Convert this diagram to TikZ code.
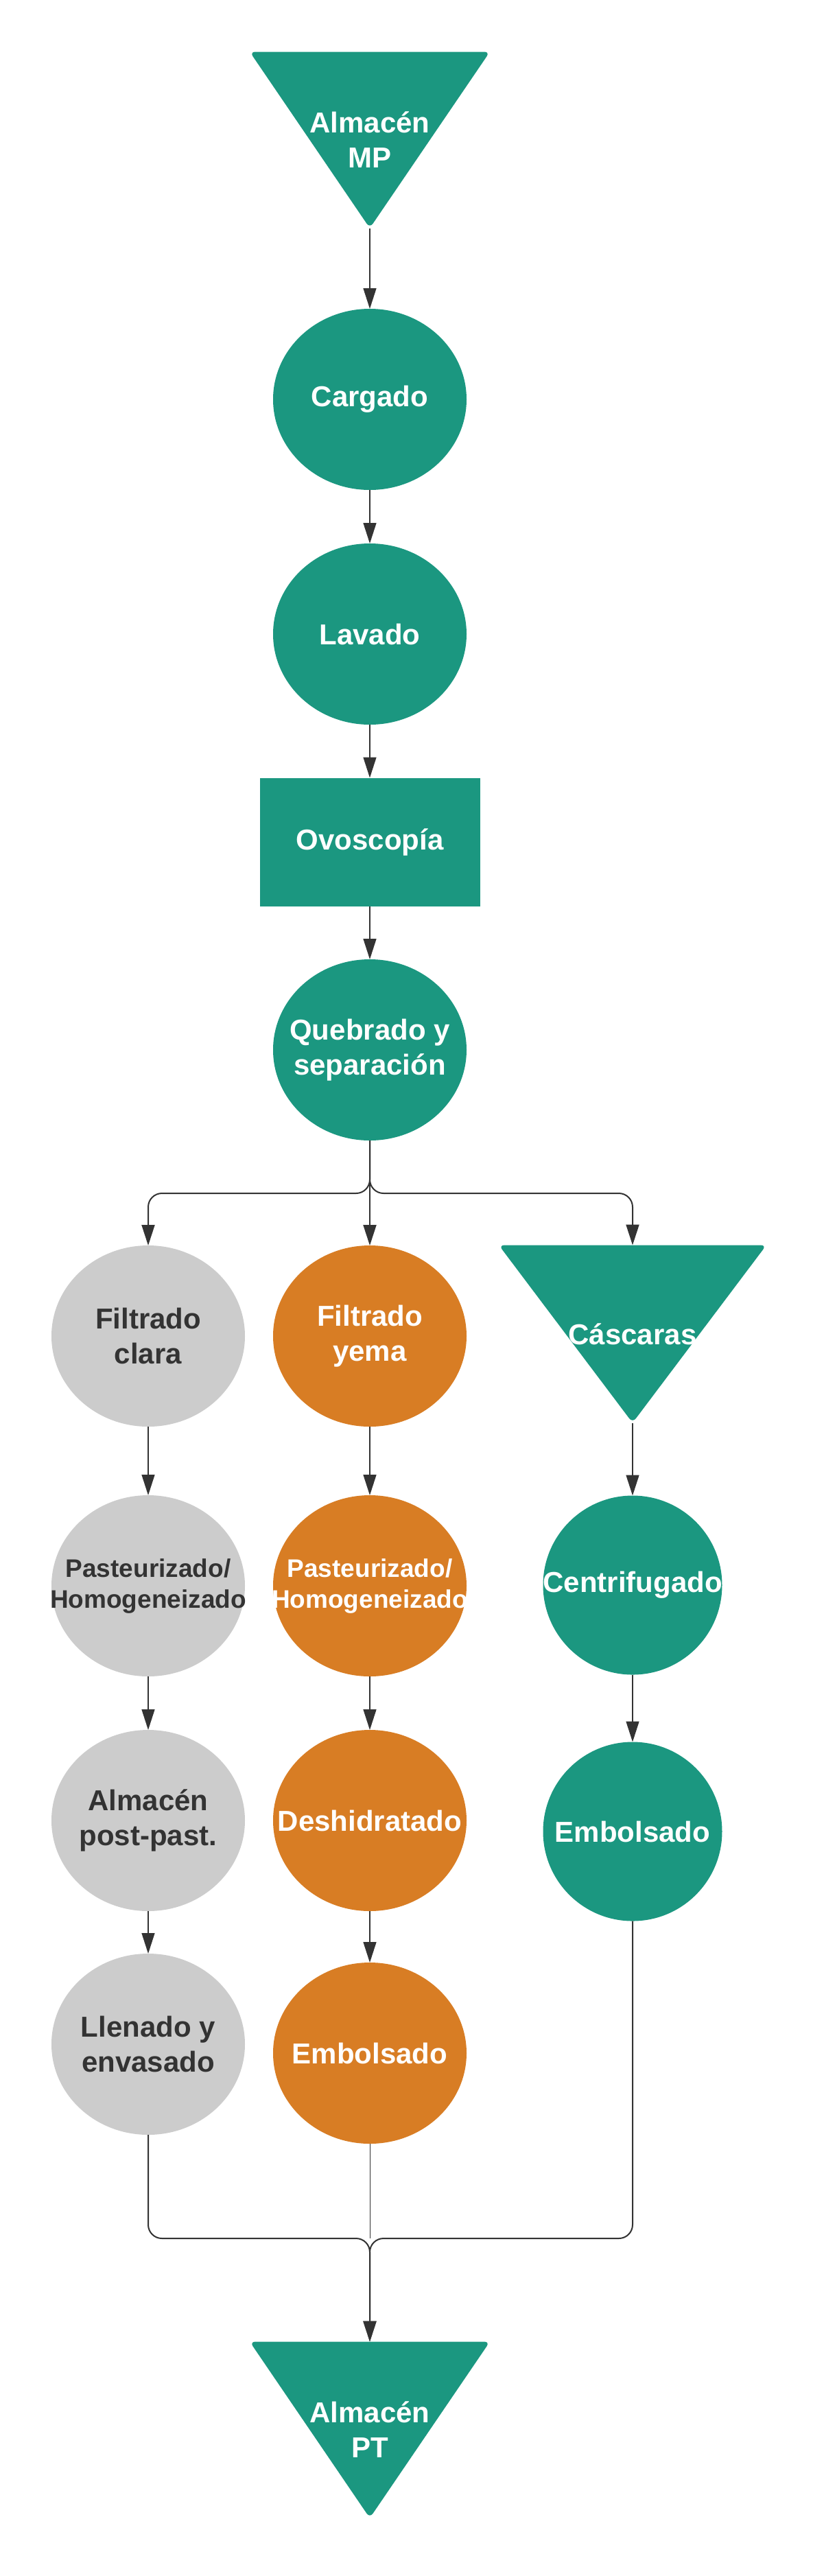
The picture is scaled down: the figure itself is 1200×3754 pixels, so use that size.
\documentclass[tikz,border=0pt]{standalone}
\usepackage{fontspec}
\setmainfont{Liberation Sans}
\usetikzlibrary{shapes.geometric,arrows.meta}
\definecolor{verde}{HTML}{1B9780}
\definecolor{naranja}{HTML}{D87D24}
\definecolor{gris}{HTML}{CCCCCC}
\definecolor{oscuro}{HTML}{333333}
\tikzset{
    every node/.style={inner sep=0pt, outer sep=0pt},
    txt/.style={font=\bfseries\fontsize{42}{51}\selectfont, align=center},
    chico/.style={font=\bfseries\fontsize{37}{45}\selectfont, align=center},
    blanco/.style={txt, text=white},
    negro/.style={txt, text=oscuro}
}
\tikzset{
    etapa/.style={ellipse, minimum width=282pt, minimum height=264pt},
    bola/.style={ellipse, minimum width=261pt, minimum height=261pt},
    caja/.style={rectangle, fill=verde, minimum width=321pt, minimum height=187pt},
    almacen/.style={minimum width=350pt, minimum height=257pt},
    cascara/.style={minimum width=390pt, minimum height=259pt}
}
\tikzset{
    flecha/.style={draw=oscuro, line width=1.5pt, -{Triangle[length=30pt, width=19pt]}},
    rama/.style={flecha, line width=2pt, rounded corners=20pt},
    fino/.style={draw=oscuro, line width=0.8pt}
}
\pgfdeclarelayer{background}
\pgfsetlayers{background,main}
\begin{document}
\begin{tikzpicture}[x=1pt, y=-1pt]
  \useasboundingbox (0,0) rectangle (1200,3754);
  % linea principal
  \node (mp) [almacen, blanco] at (539,204) {Almacén\\MP};
  \node (carg) [etapa, fill=verde, label={[blanco]center:Cargado}] at (539,582) {};
  \node (lav) [etapa, fill=verde, label={[blanco]center:Lavado}] at (539,924) {};
  \node (ovo) [caja, blanco] at (539,1227) {Ovoscopía};
  \node (queb) [etapa, fill=verde, label={[blanco]center:Quebrado y\\separación}] at (539,1530) {};
  \coordinate (split) at (539,1739);

  % clara
  \node (fc) [etapa, fill=gris, label={[negro]center:Filtrado\\clara}] at (216,1947) {};
  \node (pc) [etapa, fill=gris, label={[negro, chico]center:Pasteurizado/\\Homogeneizado}] at (216,2311) {};
  \node (ap) [etapa, fill=gris, label={[negro]center:Almacén\\post-past.}] at (216,2653) {};
  \node (lle) [etapa, fill=gris, label={[negro]center:Llenado y\\envasado}] at (216,2979) {};

  % yema
  \node (fy) [etapa, fill=naranja, label={[blanco]center:Filtrado\\yema}] at (539,1947) {};
  \node (py) [etapa, fill=naranja, label={[blanco, chico]center:Pasteurizado/\\Homogeneizado}] at (539,2311) {};
  \node (des) [etapa, fill=naranja, label={[blanco]center:Deshidratado}] at (539,2653) {};
  \node (embY) [etapa, fill=naranja, label={[blanco]center:Embolsado}] at (539,2992) {};

  % cascaras
  \node (cas) [cascara, blanco] at (922,1944) {Cáscaras};
  \node (cen) [bola, fill=verde, label={[blanco]center:Centrifugado}] at (922,2310) {};
  \node (embC) [bola, fill=verde, label={[blanco]center:Embolsado}] at (922,2669) {};

  \coordinate (merge) at (539,3262);
  \node (pt) [almacen, blanco] at (539,3541) {Almacén\\PT};

  \begin{pgfonlayer}{background}
    \foreach \t in {mp,cas,pt}
      \fill[verde, rounded corners=8pt] (\t.north west) -- (\t.north east) -- (\t.south) -- cycle;
  \end{pgfonlayer}

  \draw[flecha] (mp.south) -- (carg.north); \draw[flecha] (carg.south) -- (lav.north);
  \draw[flecha] (lav.south) -- (ovo.north); \draw[flecha] (ovo.south) -- (queb.north);
  \draw[rama] (queb.south) -- (split) -| (fc.north);
  \draw[rama] (queb.south) -- (split) -| (cas.north);
  \draw[flecha, line width=2pt] (queb.south) -- (fy.north);
  \draw[flecha] (fc.south) -- (pc.north); \draw[flecha] (pc.south) -- (ap.north);
  \draw[flecha] (ap.south) -- (lle.north);
  \draw[flecha] (fy.south) -- (py.north); \draw[flecha] (py.south) -- (des.north);
  \draw[flecha] (des.south) -- (embY.north);
  \draw[flecha] (cas.south) -- (cen.north); \draw[flecha] (cen.south) -- (embC.north);
  \draw[rama] (lle.south) |- (merge) -- (pt.north);
  \draw[rama] (embC.south) |- (merge) -- (pt.north);
  \draw[fino] (embY.south) -- (merge);
\end{tikzpicture}
\end{document}
